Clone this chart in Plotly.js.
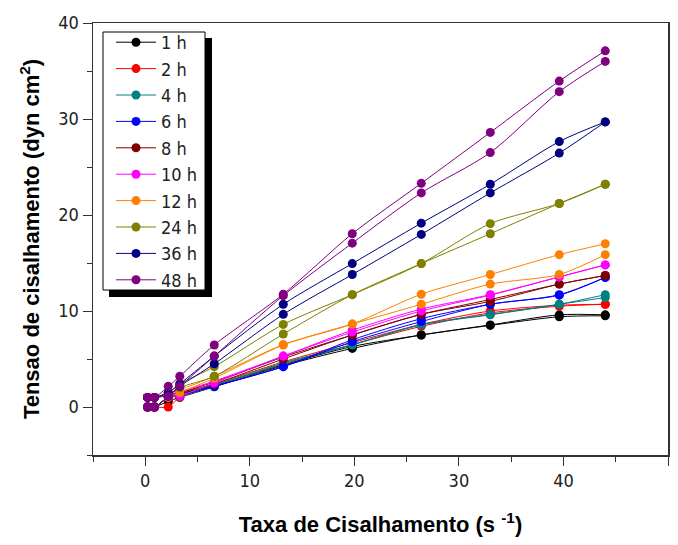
<!DOCTYPE html>
<html>
<head>
<meta charset="utf-8">
<script src="https://cdn.plot.ly/plotly-3.0.1.min.js"></script>
<style>html,body{margin:0;padding:0;background:#fff;}#chart{width:678px;height:545px;}</style>
</head>
<body>
<div id="chart"></div>
<script>
const shearRate = [0.22, 0.88, 2.2, 3.3, 6.6, 13.2, 19.8, 26.4, 33, 39.6, 44];
const seriesNames = ["1 h", "2 h", "4 h", "6 h", "8 h", "10 h", "12 h", "24 h", "36 h", "48 h"];
const seriesColors = ["#000000", "#FF0000", "#008080", "#0000FF", "#800000", "#FF00FF", "#FF8000", "#808000", "#000080", "#800080"];

// ramp-up curves
const up1h  = [0, 0, 0.6, 1.0, 2.1, 4.3, 6.1, 7.5, 8.5, 9.4, 9.5];
const up2h  = [0, 0, 0, 1.0, 2.2, 4.5, 6.5, 8.4, 9.8, 10.5, 10.7];
const up4h  = [0, 0, 1.0, 1.1, 2.2, 4.5, 6.46, 8.55, 9.6, 10.7, 11.7];
const up6h  = [0, 0, 1.0, 1.2, 2.15, 4.2, 6.8, 8.9, 10.7, 11.65, 13.5];
const up8h  = [0, 0, 1.0, 1.3, 2.4, 5.0, 7.5, 9.65, 11.0, 12.8, 13.7];
const up10h = [0, 0, 1.0, 1.17, 2.5, 5.3, 7.8, 10.0, 11.65, 13.55, 14.8];
const up12h = [0, 0, 1.0, 1.5, 3.0, 6.46, 8.64, 10.7, 12.8, 13.8, 15.87];
const up24h = [0, 0, 1.1, 2.0, 3.2, 7.6, 11.7, 14.94, 18.05, 21.2, 23.2];
const up36h = [0, 0, 1.1, 2.15, 4.5, 9.65, 13.8, 17.98, 22.3, 26.45, 29.7];
const up48h = [0, 0, 1.1, 2.15, 5.3, 11.6, 17.07, 22.3, 26.5, 32.85, 36.0];

// ramp-down curves
const down1h  = [1, 1, 1.2, 1.4, 2.3, 4.4, 6.3, 7.5, 8.55, 9.6, 9.6];
const down2h  = [1, 1, 1.2, 1.5, 2.4, 4.7, 6.7, 8.6, 10.0, 10.6, 10.7];
const down4h  = [1, 1, 1.2, 1.4, 2.3, 4.6, 6.5, 8.6, 9.65, 10.7, 11.4];
const down6h  = [1, 1, 1.2, 1.4, 2.2, 4.2, 7.0, 9.2, 10.7, 11.7, 13.5];
const down8h  = [1, 1, 1.3, 1.5, 2.6, 5.2, 7.5, 9.65, 11.2, 12.8, 13.7];
const down10h = [1, 1, 1.3, 1.6, 2.7, 5.3, 8.0, 10.2, 11.7, 13.55, 14.8];
const down12h = [1, 1, 1.5, 1.8, 3.2, 6.5, 8.64, 11.75, 13.8, 15.87, 17.0];
const down24h = [1, 1, 1.5, 2.4, 4.2, 8.6, 11.7, 14.94, 19.1, 21.2, 23.2];
const down36h = [1, 1, 1.5, 2.4, 5.3, 10.7, 14.94, 19.15, 23.2, 27.65, 29.7];
const down48h = [1, 1, 2.15, 3.2, 6.46, 11.75, 18.05, 23.3, 28.6, 33.95, 37.1];

const upCurves = [up1h, up2h, up4h, up6h, up8h, up10h, up12h, up24h, up36h, up48h];
const downCurves = [down1h, down2h, down4h, down6h, down8h, down10h, down12h, down24h, down36h, down48h];

const traces = [];
seriesNames.forEach((name, i) => {
  const common = {
    x: shearRate, type: 'scatter', mode: 'lines+markers',
    legendgroup: name, name: name,
    line: {color: seriesColors[i], width: 1, shape: 'spline', smoothing: 0.8},
    marker: {color: seriesColors[i], size: 9, symbol: 'circle'}
  };
  traces.push(Object.assign({}, common, {y: upCurves[i], showlegend: true}));
  traces.push(Object.assign({}, common, {y: downCurves[i], showlegend: false}));
});

const narrow = "'Liberation Sans Narrow', 'Arial Narrow', 'DejaVu Sans Condensed', 'Liberation Sans', sans-serif";
const tickFont = {family: narrow, size: 18, color: '#222'};
const titleFont = {family: "'Liberation Sans', Arial, sans-serif", size: 22, color: '#000', weight: 'bold'};

// plot area in pixels: left 93, top 23, width 575, height 432
const px = v => (v - 93) / 575;
const py = v => 1 - (v - 23) / 432;

const layout = {
  width: 678, height: 545,
  margin: {l: 93, r: 10, t: 23, b: 90, pad: 0},
  paper_bgcolor: '#fff', plot_bgcolor: '#fff',
  showlegend: true,
  xaxis: {
    range: [-5, 50], dtick: 10, tick0: 0, ticks: 'outside', ticklen: 9, tickwidth: 1, tickcolor: '#333',
    minor: {dtick: 5, tick0: 0, ticks: 'outside', ticklen: 5, tickcolor: '#333', showgrid: false},
    showgrid: false, zeroline: false, showline: true, mirror: true, linecolor: '#333', linewidth: 1.5,
    tickfont: tickFont,
    title: {text: 'Taxa de Cisalhamento (s <sup>-1</sup>)', font: titleFont, standoff: 26}
  },
  yaxis: {
    range: [-5, 40], dtick: 10, tick0: 0, ticks: 'outside', ticklen: 9, tickwidth: 1, tickcolor: '#333',
    minor: {dtick: 5, tick0: 0, ticks: 'outside', ticklen: 5, tickcolor: '#333', showgrid: false},
    showgrid: false, zeroline: false, showline: true, mirror: true, linecolor: '#333', linewidth: 1.5,
    tickfont: tickFont,
    title: {text: 'Tensao de cisalhamento (dyn cm<sup>2</sup>)', font: titleFont, standoff: 12}
  },
  legend: {
    x: px(111), y: py(24), xanchor: 'left', yanchor: 'top',
    bgcolor: 'rgba(0,0,0,0)', borderwidth: 0,
    font: {family: narrow, size: 18, color: '#222'},
    tracegroupgap: 0, itemwidth: 40
  },
  shapes: [
    {type: 'rect', xref: 'paper', yref: 'paper', layer: 'above',
     x0: px(109), x1: px(212), y0: py(297), y1: py(38),
     fillcolor: '#000', line: {width: 0}},
    {type: 'rect', xref: 'paper', yref: 'paper', layer: 'above',
     x0: px(103), x1: px(205), y0: py(290), y1: py(32),
     fillcolor: '#fff', line: {width: 1, color: '#000'}}
  ]
};

Plotly.newPlot('chart', traces, layout, {displayModeBar: false, staticPlot: true});
</script>
</body>
</html>
